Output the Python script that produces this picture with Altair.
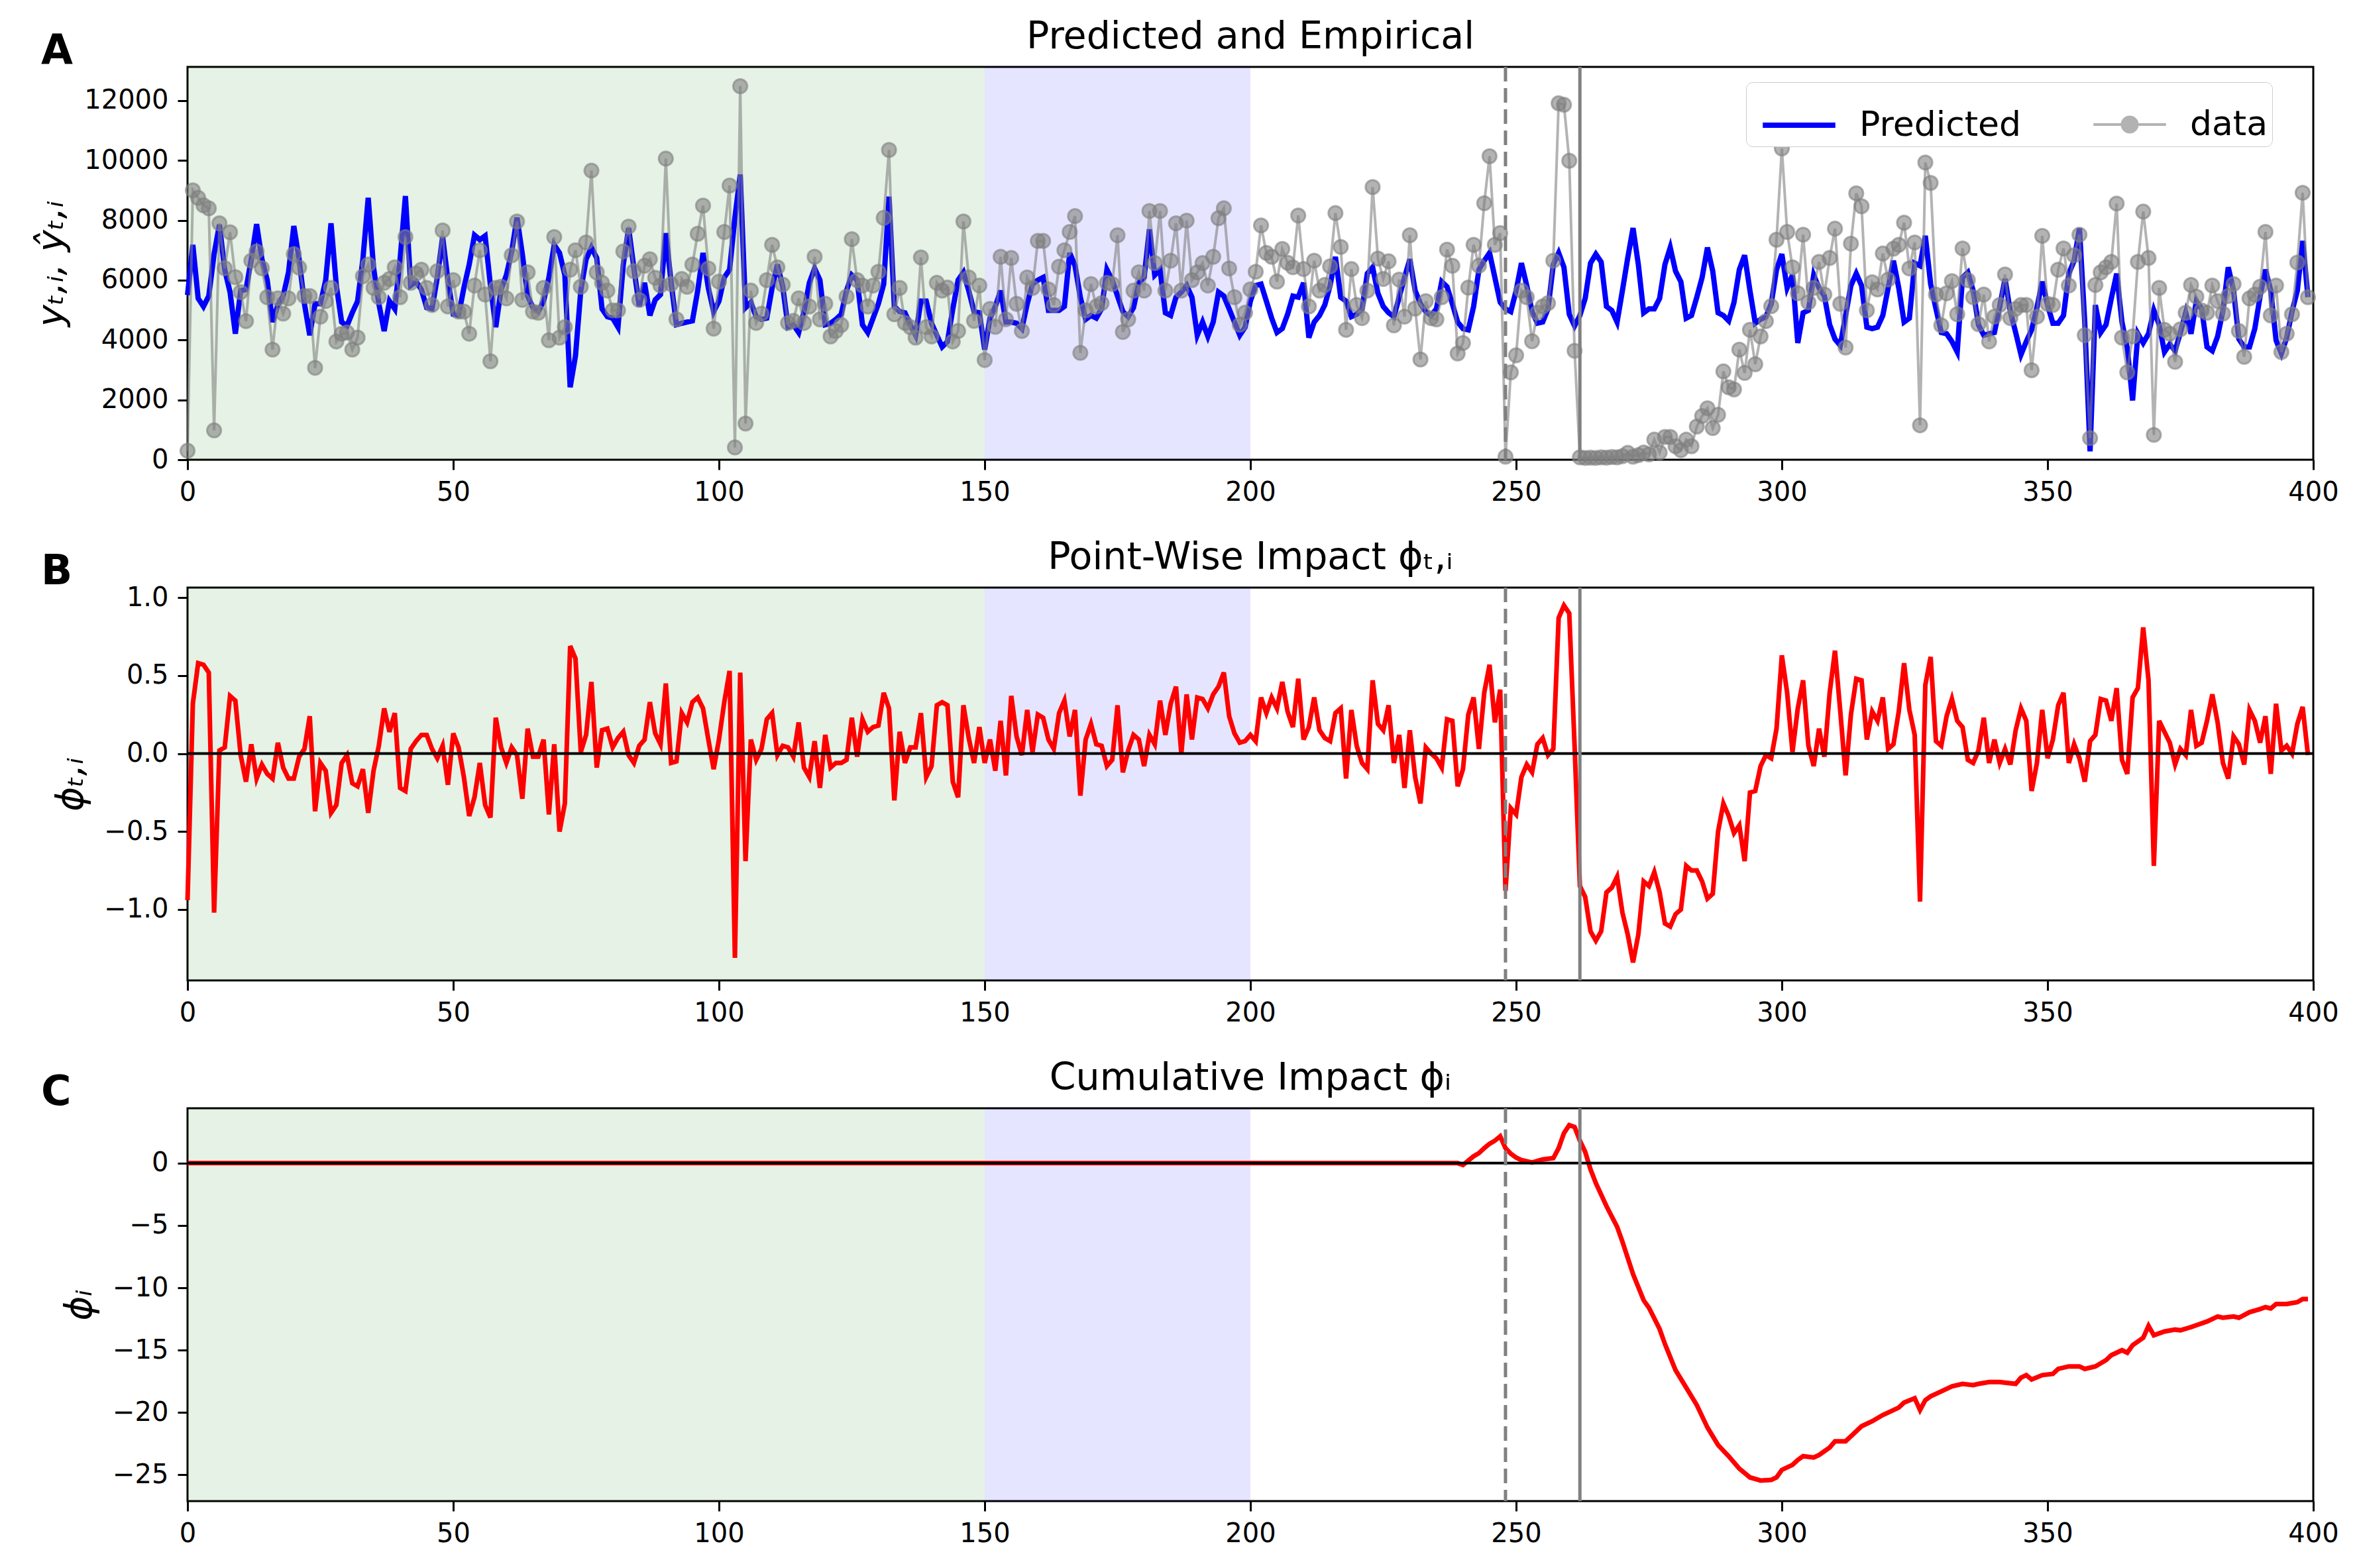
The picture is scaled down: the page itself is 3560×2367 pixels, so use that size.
import altair as alt
import pandas as pd

FONT = "DejaVu Sans"

# ---------------- data ----------------
t_vals = list(range(400))

data_vals = [
    300, 9000, 8750, 8500, 8400, 980, 7900, 6400, 7600, 6100,
    5600, 4630, 6650, 6960, 6400, 5430, 3680, 5390, 4880, 5390,
    6870, 6420, 5470, 5470, 3070, 4780, 5300, 5740, 3950, 4210,
    4250, 3680, 4080, 6130, 6520, 5740, 5430, 5910, 6040, 6430,
    5430, 7440, 5910, 6220, 6350, 5740, 5170, 6300, 7660, 5120,
    6000, 4950, 4950, 4210, 5820, 7000, 5520, 3290, 5740, 5780,
    5390, 6830, 7960, 5340, 6260, 4950, 4910, 5740, 3990, 7440,
    4080, 4430, 6350, 7000, 5780, 7260, 9660, 6260, 5910, 5650,
    4990, 4990, 6960, 7790, 6300, 5340, 6480, 6700, 6080, 5820,
    10060, 5870, 4690, 6040, 5780, 6520, 7550, 8490, 6390, 4380,
    5950, 7610, 9160, 410, 12480, 1210, 5650, 4570, 4880, 6000,
    7180, 6430, 5850, 4570, 4640, 5390, 4570, 5120, 6780, 4690,
    5210, 4120, 4300, 4500, 5450, 7370, 6000, 5820, 5120, 5820,
    6280, 8080, 10350, 4860, 5740, 4570, 4430, 4080, 6760, 4430,
    4120, 5910, 5650, 5750, 3950, 4300, 7960, 6090, 4640, 5820,
    3330, 5040, 4440, 6780, 4690, 6740, 5210, 4300, 6090, 5740,
    7310, 7310, 5690, 5170, 6450, 7000, 7610, 8140, 3570, 4990,
    5870, 5120, 5230, 5910, 5870, 7500, 4270, 4690, 5650, 6260,
    5650, 8310, 6570, 8310, 5650, 6650, 7900, 5650, 7990, 6000,
    6260, 6570, 5820, 6780, 8070, 8400, 6390, 5430, 4510, 4910,
    5690, 6280, 7830, 6910, 6780, 5950, 7040, 6580, 6430, 8160,
    6370, 5120, 6650, 5650, 5840, 6460, 8240, 7110, 4340, 6370,
    5170, 4730, 5650, 9110, 6720, 6040, 6630, 4490, 6020, 4780,
    7500, 5050, 3350, 5300, 4730, 4690, 5430, 7020, 6480, 3550,
    3900, 5750, 7180, 6480, 8570, 10140, 7180, 7570, 100, 2920,
    3490, 5650, 5430, 3960, 4910, 5120, 5230, 6650, 11910, 11860,
    9990, 3640, 80, 60, 70, 60, 80, 70, 90, 80,
    120, 230, 100, 150, 240, 180, 670, 240, 760, 760,
    450, 320, 670, 450, 1110, 1460, 1720, 1060, 1500, 2950,
    2420, 2350, 3680, 2900, 4340, 3190, 4120, 4630, 5130, 7350,
    10400, 7610, 6430, 5560, 7520, 5260, 5740, 6610, 5520, 6740,
    7720, 5210, 3750, 7220, 8900, 8470, 4990, 5930, 5690, 6890,
    6020, 7050, 7180, 7920, 6390, 7260, 1150, 9930, 9250, 5520,
    4490, 5560, 5970, 4860, 7060, 6000, 5430, 4530, 5520, 3950,
    4780, 5170, 6190, 4730, 5040, 5170, 5170, 2990, 4780, 7480,
    5210, 5170, 6350, 7060, 5820, 6830, 7520, 4160, 720, 5840,
    6260, 6430, 6610, 8560, 4080, 2920, 4120, 6610, 8290, 6740,
    830, 5740, 4340, 4210, 3270, 4360, 4910, 5840, 5450, 4990,
    4910, 5820, 5300, 4880, 5470, 5870, 4300, 3440, 5390, 5520,
    5780, 7610, 4820, 5820, 3600, 4210, 4860, 6590, 8920, 5430,
]

pred_vals = [
    5500, 7180, 5390, 5120, 5470, 6870, 7850, 6350, 5600, 4210,
    5650, 5690, 6700, 7870, 6700, 6000, 4600, 5170, 5470, 6260,
    7810, 6700, 5210, 4160, 5210, 5210, 6000, 7900, 5820, 4600,
    4470, 4910, 5300, 6700, 8750, 6430, 5210, 4300, 5300, 5040,
    6700, 8810, 5820, 5950, 5690, 5080, 5040, 6090, 7440, 6000,
    4860, 4820, 5740, 6520, 7500, 7350, 7480, 5820, 4430, 5690,
    6170, 6960, 8090, 6870, 5470, 5080, 4950, 5300, 6090, 7180,
    6910, 6170, 2420, 3470, 5650, 6700, 7090, 6740, 5040, 4780,
    4730, 4430, 6520, 7740, 6390, 5120, 5910, 4820, 5340, 5520,
    7570, 5910, 4510, 4560, 4600, 4640, 5650, 6910, 5740, 4950,
    5300, 6090, 6350, 8090, 9530, 5080, 5260, 4780, 4690, 4730,
    5740, 6520, 5780, 4430, 4510, 4250, 4950, 5910, 6390, 6000,
    4510, 4560, 4690, 4860, 5650, 6170, 6000, 4510, 4250, 4730,
    5210, 5870, 8790, 5120, 4950, 4910, 4510, 4160, 5300, 5300,
    4560, 4160, 3770, 3950, 5040, 6000, 6260, 5650, 4950, 4910,
    3680, 4730, 5120, 5650, 4600, 4600, 4560, 4380, 5210, 5870,
    6000, 6090, 4990, 4990, 4990, 5120, 6910, 6480, 5430, 4690,
    4820, 4730, 5040, 6350, 6000, 5470, 4950, 4780, 5080, 5910,
    6090, 7700, 6170, 6350, 4910, 4820, 5430, 5600, 5820, 5430,
    4160, 4600, 4120, 4600, 5600, 5470, 5040, 4600, 4160, 4430,
    5300, 5820, 5870, 5300, 4730, 4250, 4380, 4860, 5470, 5430,
    5910, 4080, 4600, 4820, 5170, 5820, 6780, 5430, 5300, 4780,
    4860, 5040, 6220, 6430, 5560, 5120, 4910, 4780, 5430, 6090,
    6700, 5650, 5210, 4950, 4820, 5040, 5950, 5780, 5210, 4600,
    4380, 4340, 5120, 6350, 6650, 6910, 6090, 5260, 5040, 4950,
    5650, 6570, 5820, 4950, 4560, 4600, 5040, 6520, 6910, 6430,
    4860, 4470, 4820, 5390, 6570, 6870, 6610, 5120, 4990, 4600,
    5650, 6740, 7740, 6520, 4910, 5040, 5040, 5390, 6520, 7090,
    6300, 5950, 4730, 4820, 5430, 6090, 7090, 6300, 4910, 4820,
    4640, 5260, 6350, 6830, 5650, 4560, 4690, 4780, 5210, 6350,
    6870, 5740, 6170, 3900, 4910, 4990, 6170, 5740, 5470, 4510,
    4030, 3820, 4820, 5820, 6220, 5820, 4430, 4380, 4430, 4820,
    5740, 6650, 5740, 4600, 4730, 6570, 6480, 7480, 5870, 5040,
    4250, 4210, 3950, 3600, 6090, 6260, 5650, 4510, 4160, 4210,
    4250, 5120, 6040, 4950, 4250, 3510, 3950, 4340, 5080, 5950,
    5170, 4560, 4560, 4820, 6220, 6650, 7740, 4600, 280, 5170,
    4250, 4510, 5390, 6220, 4600, 3730, 1980, 4210, 3900, 4210,
    4990, 4510, 3600, 3860, 3640, 4250, 4910, 4210, 5300, 5040,
    3770, 3640, 4120, 4990, 6430, 5650, 4030, 3770, 3770, 4380,
    5470, 6350, 5650, 3990, 3550, 4080, 4950, 5650, 7310, 5430,
]

phi_vals = [
    -0.94, 0.32, 0.58, 0.57, 0.52, -1.02, 0.02, 0.04, 0.37, 0.34,
    -0.01, -0.18, 0.06, -0.16, -0.07, -0.13, -0.16, 0.07, -0.09, -0.16,
    -0.16, -0.02, 0.03, 0.24, -0.37, -0.06, -0.11, -0.38, -0.33, -0.06,
    -0.01, -0.19, -0.21, -0.10, -0.38, -0.11, 0.05, 0.29, 0.14, 0.26,
    -0.22, -0.24, 0.03, 0.08, 0.12, 0.12, 0.03, -0.03, 0.05, -0.20,
    0.13, 0.04, -0.15, -0.40, -0.28, -0.06, -0.33, -0.41, 0.23, 0.04,
    -0.06, 0.04, -0.01, -0.29, 0.16, -0.02, -0.02, 0.09, -0.39, 0.06,
    -0.50, -0.32, 0.69, 0.61, 0.01, 0.12, 0.46, -0.09, 0.15, 0.16,
    0.04, 0.10, 0.14, -0.01, -0.06, 0.05, 0.09, 0.33, 0.13, 0.06,
    0.45, -0.06, -0.05, 0.26, 0.20, 0.33, 0.36, 0.29, 0.09, -0.10,
    0.09, 0.33, 0.53, -1.31, 0.52, -0.69, 0.09, -0.04, 0.03, 0.22,
    0.26, -0.01, 0.05, 0.04, -0.02, 0.20, -0.09, -0.15, 0.08, -0.22,
    0.12, -0.09, -0.06, -0.06, -0.04, 0.23, -0.02, 0.22, 0.14, 0.17,
    0.18, 0.39, 0.29, -0.30, 0.14, -0.06, 0.04, 0.04, 0.26, -0.15,
    -0.08, 0.31, 0.33, 0.31, -0.18, -0.28, 0.31, 0.10, -0.06, 0.17,
    -0.06, 0.09, -0.11, 0.21, -0.14, 0.37, 0.11, -0.01, 0.28, 0.01,
    0.25, 0.23, 0.09, 0.03, 0.26, 0.34, 0.11, 0.28, -0.27, 0.09,
    0.19, 0.06, 0.05, -0.08, -0.04, 0.31, -0.12, 0.02, 0.12, 0.09,
    -0.08, 0.12, 0.06, 0.34, 0.12, 0.32, 0.43, 0.00, 0.38, 0.09,
    0.36, 0.35, 0.29, 0.38, 0.43, 0.52, 0.24, 0.13, 0.07, 0.08,
    0.12, 0.08, 0.36, 0.26, 0.36, 0.29, 0.46, 0.27, 0.17, 0.48,
    0.09, 0.17, 0.36, 0.15, 0.10, 0.08, 0.26, 0.29, -0.16, 0.28,
    0.05, -0.06, -0.10, 0.47, 0.19, 0.15, 0.31, -0.06, 0.12, -0.22,
    0.15, -0.15, -0.32, 0.04, 0.00, -0.03, -0.09, 0.22, 0.21, -0.21,
    -0.10, 0.25, 0.36, 0.03, 0.39, 0.57, 0.20, 0.41, -0.88, -0.35,
    -0.39, -0.15, -0.07, -0.12, 0.06, 0.10, -0.01, 0.03, 0.87, 0.95,
    0.90, 0.05, -0.85, -0.92, -1.14, -1.20, -1.14, -0.89, -0.86, -0.79,
    -1.02, -1.16, -1.34, -1.16, -0.82, -0.85, -0.76, -0.89, -1.09, -1.11,
    -1.03, -1.00, -0.72, -0.75, -0.75, -0.82, -0.93, -0.90, -0.50, -0.32,
    -0.40, -0.51, -0.46, -0.69, -0.25, -0.24, -0.08, -0.01, -0.03, 0.16,
    0.63, 0.39, 0.01, 0.29, 0.47, 0.05, -0.08, 0.16, -0.02, 0.39,
    0.66, 0.27, -0.14, 0.25, 0.48, 0.47, 0.09, 0.27, 0.21, 0.36,
    0.03, 0.06, 0.27, 0.58, 0.28, 0.12, -0.95, 0.44, 0.62, 0.08,
    0.05, 0.24, 0.35, 0.21, 0.17, -0.04, -0.06, 0.02, 0.23, -0.06,
    0.09, -0.06, 0.03, -0.07, 0.15, 0.29, 0.21, -0.24, -0.06, 0.28,
    -0.03, 0.09, 0.31, 0.39, -0.06, 0.06, -0.03, -0.18, 0.08, 0.12,
    0.35, 0.34, 0.21, 0.42, -0.04, -0.13, 0.36, 0.42, 0.81, 0.47,
    -0.72, 0.21, 0.14, 0.07, -0.07, 0.03, -0.01, 0.28, 0.05, 0.07,
    0.21, 0.38, 0.20, -0.06, -0.16, 0.11, 0.06, -0.07, 0.28, 0.21,
    0.07, 0.24, -0.13, 0.32, 0.02, 0.05, 0.00, 0.19, 0.30, -0.01,
]

cum_t = [
    0, 239, 240, 241, 242, 243, 244, 245, 246, 247, 248, 249, 250, 251, 253,
    255, 257, 258, 259, 260, 261, 262, 263, 264, 265, 267, 269, 270, 272, 274,
    275, 277, 278, 280, 282, 284, 286, 288, 290, 292, 294, 296, 298, 299, 300,
    302, 303, 304, 306, 307, 309, 310, 312, 314, 315, 317, 319, 320, 322, 323,
    325, 326, 327, 328, 330, 332, 334, 336, 337, 339, 341, 342, 344, 345, 346,
    347, 349, 351, 352, 354, 356, 357, 359, 361, 362, 364, 365, 366, 368, 369,
    370, 372, 374, 375, 377, 378, 380, 382, 383, 385, 386, 388, 390, 391, 392,
    393, 395, 397, 398, 399,
]
cum_vals = [
    0.0, 0.0, -0.15, 0.2, 0.55, 0.8, 1.2, 1.55, 1.8, 2.15, 1.2, 0.75, 0.45, 0.25, 0.05,
    0.3, 0.4, 1.2, 2.4, 3.05, 2.9, 1.8, 0.9, -0.5, -1.6, -3.45, -5.1, -6.3, -8.9, -11.0,
    -11.6, -13.3, -14.5, -16.6, -18.0, -19.4, -21.2, -22.6, -23.5, -24.5, -25.2, -25.45, -25.4, -25.2, -24.6,
    -24.2, -23.8, -23.5, -23.6, -23.4, -22.8, -22.3, -22.3, -21.5, -21.1, -20.7, -20.2, -20.0, -19.6, -19.2,
    -18.85, -19.8, -19.0, -18.7, -18.3, -17.9, -17.7, -17.8, -17.7, -17.55, -17.55, -17.6, -17.7, -17.2, -17.0,
    -17.35, -17.0, -16.9, -16.5, -16.3, -16.3, -16.5, -16.3, -15.8, -15.4, -15.0, -15.2, -14.6, -14.0, -13.05,
    -13.8, -13.5, -13.35, -13.4, -13.15, -13.0, -12.7, -12.3, -12.4, -12.3, -12.4, -11.95, -11.7, -11.55, -11.65,
    -11.3, -11.3, -11.15, -10.9, -10.9,
]

shade_start = [0, 150]
shade_end = [150, 200]
shade_color = ["#008000", "#0000ff"]

event_t = [248, 262]
event_style = ["dashed", "solid"]

x_ticks = [0, 50, 100, 150, 200, 250, 300, 350, 400]
a_ticks = [0, 2000, 4000, 6000, 8000, 10000, 12000]
b_ticks = [-1.0, -0.5, 0.0, 0.5, 1.0]
c_ticks = [-25, -20, -15, -10, -5, 0]

series_names = ["Predicted", "data"]
series_colors = ["blue", "gray"]
series_opacity = [1.0, 0.6]
series_width = [8, 4]

# ---------------- tables ----------------
pred_df = pd.DataFrame({"t": t_vals, "value": pred_vals})
data_df = pd.DataFrame({"t": t_vals, "value": data_vals})
phi_df = pd.DataFrame({"t": t_vals, "value": phi_vals})
cum_df = pd.DataFrame({"t": cum_t, "value": cum_vals})
shade_df = pd.DataFrame({"t": shade_start, "t2": shade_end, "color": shade_color})
event_df = pd.DataFrame({"t": event_t, "style": event_style})
zero_df = pd.DataFrame({"value": [0]})
legend_df = pd.DataFrame({"series": pd.Series([], dtype="object")})

W, H = 3208, 593


def xenc():
    return alt.X("t:Q", scale=alt.Scale(domain=[0, 400], nice=False, zero=False),
                 axis=alt.Axis(values=x_ticks, title=None, format="d"))


def yenc(domain, ticks, fmt, title):
    return alt.Y("value:Q", scale=alt.Scale(domain=domain, nice=False, zero=False),
                 axis=alt.Axis(values=ticks, format=fmt, title=title))


def shading():
    return alt.Chart(shade_df).mark_rect(opacity=0.1).encode(
        x=xenc(), x2="t2:Q", color=alt.Color("color:N", scale=None))


def events():
    return alt.Chart(event_df).mark_rule(color="gray", strokeWidth=5).encode(
        x=xenc(),
        strokeDash=alt.StrokeDash("style:N", scale=alt.Scale(domain=["dashed", "solid"],
                                                             range=[[22, 10], [1, 0]]),
                                  legend=None))


def panel_label(letter):
    return alt.Chart(pd.DataFrame({"lab": [letter]})).mark_text(
        x=-221, y=-5, align="left", baseline="alphabetic", fontSize=62,
        fontWeight="bold", font=FONT, color="black").encode(text="lab:N")


def ptitle(text):
    return alt.TitleParams(text, fontSize=57, font=FONT, fontWeight="normal",
                           anchor="middle", offset=-39, color="black")


line_sym = "M-1,0H1"
dot_sym = "M-1,0H1M0.21,0A0.21,0.21 0 1,1 -0.21,0A0.21,0.21 0 1,1 0.21,0"

legend = alt.Legend(
    title=None, orient="none", legendX=2352, legendY=23, direction="horizontal",
    columns=2, labelFontSize=52, labelFont=FONT, labelColor="black", labelLimit=800,
    labelExpr="datum.label + '   '",
    symbolSize=12000, symbolOffset=15, fillColor="white", strokeColor="#cccccc",
    cornerRadius=10, padding=6, labelOffset=32,
)
# a legend-only layer (no rows): its scales give the key of panel A
legend_layer = alt.Chart(legend_df).mark_point(filled=True, fill="gray", size=12000).encode(
    stroke=alt.Stroke("series:N", scale=alt.Scale(domain=series_names, range=series_colors),
                      legend=legend),
    shape=alt.Shape("series:N", scale=alt.Scale(domain=series_names, range=[line_sym, dot_sym]),
                    legend=legend),
    opacity=alt.Opacity("series:N", scale=alt.Scale(domain=series_names, range=series_opacity),
                        legend=legend),
    strokeWidth=alt.StrokeWidth("series:N", scale=alt.Scale(domain=series_names, range=series_width),
                                legend=legend),
)

ya = yenc([0, 13125], a_ticks, "d", "yₜ,ᵢ, ŷₜ,ᵢ")
panel_a = alt.layer(
    shading(),
    alt.Chart(pred_df).mark_line(strokeWidth=8, color="blue").encode(x=xenc(), y=ya),
    alt.Chart(data_df).mark_line(strokeWidth=4, color="gray", opacity=0.6).encode(x=xenc(), y=ya),
    alt.Chart(data_df).mark_circle(size=450, color="gray", fillOpacity=0.6, stroke="gray",
                                   strokeOpacity=0.6, strokeWidth=3).encode(x=xenc(), y=ya),
    events(),
    panel_label("A"),
    legend_layer,
).properties(width=W, height=H, title=ptitle("Predicted and Empirical"))

yb = yenc([-1.455, 1.065], b_ticks, ".1f", "ϕₜ,ᵢ")
panel_b = alt.layer(
    shading(),
    alt.Chart(phi_df).mark_line(strokeWidth=7, color="red").encode(x=xenc(), y=yb),
    alt.Chart(zero_df).mark_rule(color="black", strokeWidth=4).encode(y=yb),
    events(),
    panel_label("B"),
).properties(width=W, height=H, title=ptitle("Point-Wise Impact ϕₜ,ᵢ"))

yc = yenc([-27.1, 4.4], c_ticks, "d", "ϕᵢ")
panel_c = alt.layer(
    shading(),
    alt.Chart(cum_df).mark_line(strokeWidth=7, color="red").encode(x=xenc(), y=yc),
    alt.Chart(zero_df).mark_rule(color="black", strokeWidth=4).encode(y=yc),
    events(),
    panel_label("C"),
).properties(width=W, height=H, title=ptitle("Cumulative Impact ϕᵢ"))

chart = alt.vconcat(panel_a, panel_b, panel_c, spacing=46).properties(
    padding={"left": 40, "top": 17, "right": 10, "bottom": 10},
    background="white",
).configure_view(
    stroke="black", strokeWidth=3
).configure_axis(
    labelFont=FONT, labelFontSize=40, labelColor="black", labelPadding=14,
    labelFlush=False,
    tickColor="black", tickWidth=3, tickSize=15, domain=False, grid=False,
    titleFont=FONT, titleFontSize=56, titleFontWeight="normal", titleColor="black",
    titleFontStyle="italic", titlePadding=20,
).configure_legend(
    columnPadding=89
)

chart.save("out.html", embed_options={"renderer": "svg", "actions": False})
